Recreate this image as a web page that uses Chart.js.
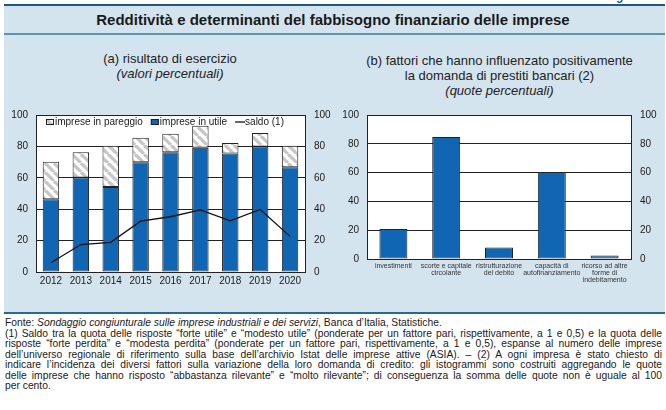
<!DOCTYPE html>
<html>
<head>
<meta charset="utf-8">
<script src="https://cdn.jsdelivr.net/npm/chart.js@4.4.1/dist/chart.umd.min.js"></script>
<style>
body { margin: 0; width: 666px; height: 410px; overflow: hidden; background: #fff; position: relative;
  font-family: "Liberation Sans", Arial, sans-serif; color: #1a1a1a; }
.abs { position: absolute; }
#figura { right: 4px; top: -11px; font-size: 12px; font-weight: bold; color: #1f5f9f; }
#barraTop { left: 4px; right: 1px; top: 4px; height: 2px; background: #1f5a78; }
#fascia { left: 4px; right: 1px; top: 6px; height: 28px; background: #d4e4ee; }
#barraMid { left: 4px; right: 1px; top: 33px; height: 2px; background: #5b93b3; }
#pannello { left: 4px; right: 1px; top: 35px; height: 277px; background: #d4e4ee; }
#barraBot { left: 4px; right: 1px; top: 312px; height: 2px; background: #2a6a8a; }
#titolo { left: 0; width: 666px; top: 11px; text-align: center; font-size: 15px; font-weight: bold; color: #1a1a1a; }
.sub { text-align: center; font-size: 13px; line-height: 15px; color: #222; }
#subA { left: 70px; width: 200px; top: 51px; }
#subB { left: 333px; width: 333px; top: 53px; }
canvas { position: absolute; }
#note { left: 5px; top: 318px; width: 657px; font-size: 10.3px; line-height: 10.5px; color: #1a1a1a; }
#note div { white-space: nowrap; }
#note .j { text-align: justify; text-align-last: justify; }
</style>
</head>
<body>
<div class="abs" id="figura">Figura 2.3</div>
<div class="abs" id="barraTop"></div>
<div class="abs" id="fascia"></div>
<div class="abs" id="barraMid"></div>
<div class="abs" id="pannello"></div>
<div class="abs" id="barraBot"></div>
<div class="abs" id="titolo">Redditività e determinanti del fabbisogno finanziario delle imprese</div>
<div class="abs sub" id="subA">(a) risultato di esercizio<br><i>(valori percentuali)</i></div>
<div class="abs sub" id="subB">(b) fattori che hanno influenzato positivamente<br>la domanda di prestiti bancari (2)<br><i>(quote percentuali)</i></div>
<canvas id="graficoA" width="333" height="195" style="left:0;top:100px"></canvas>
<canvas id="graficoB" width="333" height="200" style="left:333px;top:100px"></canvas>
<div class="abs" id="note">
<div>Fonte: <i>Sondaggio congiunturale sulle imprese industriali e dei servizi</i>, Banca d’Italia, Statistiche.</div>
<div class="j">(1) Saldo tra la quota delle risposte “forte utile” e “modesto utile” (ponderate per un fattore pari, rispettivamente, a 1 e 0,5) e la quota delle</div>
<div class="j">risposte “forte perdita” e “modesta perdita” (ponderate per un fattore pari, rispettivamente, a 1 e 0,5), espanse al numero delle imprese</div>
<div class="j">dell’universo regionale di riferimento sulla base dell’archivio Istat delle imprese attive (ASIA). – (2) A ogni impresa è stato chiesto di</div>
<div class="j">indicare l’incidenza dei diversi fattori sulla variazione della loro domanda di credito: gli istogrammi sono costruiti aggregando le quote</div>
<div class="j">delle imprese che hanno risposto “abbastanza rilevante” e “molto rilevante”; di conseguenza la somma delle quote non è uguale al 100</div>
<div>per cento.</div>
</div>
<script>
// dati
const anni = ['2012', '2013', '2014', '2015', '2016', '2017', '2018', '2019', '2020']
const impreseUtile = [46.3, 60.2, 54.1, 69.9, 76.2, 79.2, 75.4, 80.0, 66.7]
const impresePareggio = [24.0, 16.0, 26.3, 15.6, 11.8, 13.9, 6.7, 8.6, 13.7]
const saldo = [5.9, 17.5, 18.9, 32.4, 35.2, 39.6, 32.6, 39.8, 22.7]

const fattori = [
	'investimenti',
	['scorte e capitale', 'circolante'],
	['ristrutturazione', 'del debito'],
	['capacità di', 'autofinanziamento'],
	['ricorso ad altre', 'forme di', 'indebitamento']
]
const quoteFattori = [20.9, 84.8, 8.0, 60.5, 2.5]

const asseMin = 0
const asseMax = 100
const passo = 20

const BLU = '#1166b3'
const NERO = '#222'
const FONT = '"Liberation Sans", Arial, sans-serif'

function tratteggio() {
	const c = document.createElement('canvas')
	const s = 9
	c.width = s; c.height = s
	const g = c.getContext('2d')
	g.fillStyle = '#fff'
	g.fillRect(0, 0, s, s)
	g.strokeStyle = '#c6c6c6'
	g.lineWidth = 3.2
	for (let k = -1; k <= 1; k++) {
		g.beginPath()
		g.moveTo(k * s, 0)
		g.lineTo(k * s + s, s)
		g.stroke()
	}
	return g.createPattern(c, 'repeat')
}

const sfondoBianco = {
	id: 'sfondoBianco',
	beforeDraw(chart) {
		const a = chart.chartArea
		chart.ctx.save()
		chart.ctx.fillStyle = '#fff'
		chart.ctx.fillRect(a.left, a.top, a.right - a.left, a.bottom - a.top)
		chart.ctx.restore()
	}
}

const legendaInterna = {
	id: 'legendaInterna',
	afterDatasetsDraw(chart) {
		const ctx = chart.ctx, a = chart.chartArea
		const y = a.top + 7
		let x = a.left + 10
		ctx.save()
		ctx.font = '10px ' + FONT
		ctx.textBaseline = 'middle'
		;[1, 0, 2].forEach(i => {
			const ds = chart.data.datasets[i]
			if (ds.type === 'line') {
				ctx.strokeStyle = ds.borderColor
				ctx.lineWidth = 1.3
				ctx.beginPath(); ctx.moveTo(x, y); ctx.lineTo(x + 10, y); ctx.stroke()
				x += 10
			} else {
				ctx.fillStyle = ds.backgroundColor
				ctx.fillRect(x, y - 3, 8, 6)
				ctx.strokeStyle = NERO
				ctx.lineWidth = 1
				ctx.strokeRect(x + 0.5, y - 2.5, 7, 5)
				x += 9
			}
			ctx.fillStyle = '#1a1a1a'
			ctx.fillText(ds.label, x, y)
			x += ctx.measureText(ds.label).width + 8
		})
		ctx.restore()
	}
}

function assiY(largSx, largDx, pad) {
	return {
		y: {
			position: 'left', min: asseMin, max: asseMax, stacked: true,
			afterFit(s) { s.width = largSx },
			grid: { color: NERO, lineWidth: 1, drawTicks: false },
			border: { display: true, color: NERO, width: 1 },
			ticks: { stepSize: passo, padding: pad, color: '#1a1a1a', font: { size: 10, family: FONT } }
		},
		y2: {
			position: 'right', min: asseMin, max: asseMax,
			afterFit(s) { s.width = largDx },
			grid: { display: false, drawTicks: false },
			border: { display: true, color: NERO, width: 1 },
			ticks: { stepSize: passo, padding: pad + 1, color: '#1a1a1a', font: { size: 10, family: FONT } }
		}
	}
}

Chart.defaults.font.family = FONT

const graficoA = new Chart(document.querySelector('#graficoA'), {
	data: {
		labels: anni,
		datasets: [
			{ type: 'bar', label: 'imprese in utile', data: impreseUtile, backgroundColor: BLU,
				borderColor: NERO, borderWidth: 1, borderSkipped: false, stack: 'a', order: 1,
				barPercentage: 0.55, categoryPercentage: 1 },
			{ type: 'bar', label: 'imprese in pareggio', data: impresePareggio, backgroundColor: tratteggio(),
				borderColor: NERO, borderWidth: 1, borderSkipped: false, stack: 'a', order: 1,
				barPercentage: 0.55, categoryPercentage: 1 },
			{ type: 'line', label: 'saldo (1)', data: saldo, borderColor: '#111', borderWidth: 1.3,
				pointRadius: 0, tension: 0, order: 0 }
		]
	},
	options: {
		responsive: false, animation: false, devicePixelRatio: 1,
		layout: { padding: { top: 13, left: 0, right: 0, bottom: 0 } },
		plugins: { legend: { display: false }, tooltip: { enabled: false } },
		scales: Object.assign({
			x: {
				stacked: true,
				afterFit(s) { s.height = 23 },
				grid: { display: false, drawTicks: false },
				border: { display: true, color: NERO, width: 1 },
				ticks: { padding: 3, color: '#1a1a1a', font: { size: 10, family: FONT } }
			}
		}, assiY(36, 28, 8))
	},
	plugins: [sfondoBianco, legendaInterna]
})

const graficoB = new Chart(document.querySelector('#graficoB'), {
	type: 'bar',
	data: {
		labels: fattori,
		datasets: [
			{ label: 'quote', data: quoteFattori, backgroundColor: BLU, borderColor: NERO,
				borderWidth: 1, borderSkipped: false, barPercentage: 0.53, categoryPercentage: 1 }
		]
	},
	options: {
		responsive: false, animation: false, devicePixelRatio: 1,
		layout: { padding: { top: 14, left: 0, right: 0, bottom: 0 } },
		plugins: { legend: { display: false }, tooltip: { enabled: false } },
		scales: Object.assign({
			x: {
				afterFit(s) { s.height = 41 },
				grid: { display: false, drawTicks: false },
				border: { display: true, color: NERO, width: 1 },
				ticks: { padding: 3, maxRotation: 0, autoSkip: false, color: '#333',
					font: { size: 7, family: FONT, lineHeight: 1.05 } }
			}
		}, assiY(34, 35, 8))
	},
	plugins: [sfondoBianco]
})
</script>
</body>
</html>
